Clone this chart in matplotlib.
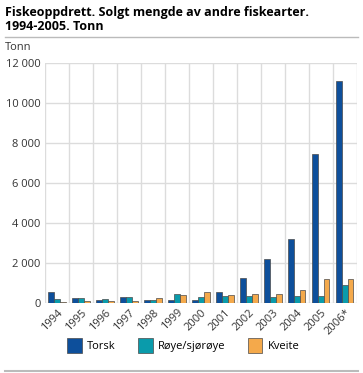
import numpy as np
import matplotlib
matplotlib.use("Agg")
import matplotlib.pyplot as plt
from matplotlib.ticker import FuncFormatter

plt.rcParams['font.family'] = ['Open Sans', 'DejaVu Sans']

years = ['1994', '1995', '1996', '1997', '1998', '1999', '2000',
         '2001', '2002', '2003', '2004', '2005', '2006*']
torsk = [550, 250, 165, 280, 165, 130, 165, 550, 1265, 2200, 3200, 7450, 11100]
roye = [215, 250, 215, 315, 165, 465, 300, 350, 350, 300, 365, 350, 900]
kveite = [50, 115, 115, 80, 250, 400, 565, 400, 450, 450, 650, 1185, 1185]

series = [('Torsk', torsk, '#0d4f9b'),
          ('Røye/sjørøye', roye, '#0a9bab'),
          ('Kveite', kveite, '#f4a94b')]

fig = plt.figure(figsize=(3.63, 3.73), dpi=100)
ax = fig.add_axes([0.124, 0.188, 0.859, 0.643])

x = np.arange(len(years))
w = 0.24
for i, (name, vals, col) in enumerate(series):
    ax.bar(x + (i - 1) * w, vals, w, color=col, edgecolor='#4a4a4a',
           linewidth=0.5, label=name, zorder=3)

ax.set_xlim(-0.5, len(years) - 0.5)
ax.set_ylim(0, 12000)
ax.set_yticks(range(0, 12001, 2000))
ax.yaxis.set_major_formatter(FuncFormatter(lambda v, p: f'{int(v):,}'.replace(',', ' ')))
ax.set_xticks(x)
ax.set_xticklabels(years, rotation=45, ha='right', rotation_mode='anchor')
ax.set_xticks(np.arange(-0.5, len(years)), minor=True)

ax.grid(axis='y', which='major', color='#dcdcdc', linewidth=1, zorder=0)
ax.grid(axis='x', which='minor', color='#dcdcdc', linewidth=1, zorder=0)
for s in ax.spines.values():
    s.set_visible(False)
ax.tick_params(which='both', length=0, labelsize=8, colors='#333333', pad=3)

fig.text(0.014, 0.985, 'Fiskeoppdrett. Solgt mengde av andre fiskearter.\n1994-2005. Tonn',
         fontsize=9, fontweight='bold', va='top', ha='left', linespacing=1.15)
fig.add_artist(plt.Line2D([0.014, 0.986], [0.9, 0.9], color='#bbbbbb', linewidth=1))
fig.text(0.014, 0.873, 'Tonn', fontsize=8, color='#333333', va='center', ha='left')
fig.add_artist(plt.Line2D([0.014, 0.986], [0.006, 0.006], color='#bbbbbb', linewidth=1.5))

fig.legend(loc='center', bbox_to_anchor=(0.505, 0.075), ncol=3, frameon=False,
           fontsize=8, handlelength=1.3, handleheight=1.7, columnspacing=2.0,
           handletextpad=0.5)

fig.savefig('out.png', dpi=100)
